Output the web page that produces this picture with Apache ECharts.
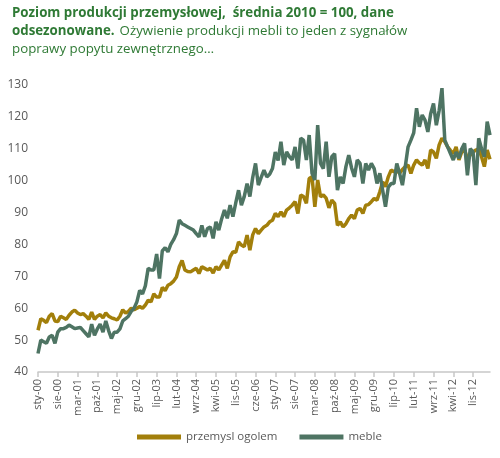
<!DOCTYPE html>
<html>
<head>
<meta charset="utf-8">
<script src="https://cdn.jsdelivr.net/npm/echarts@6/dist/echarts.min.js"></script>
<style>
html, body { margin: 0; padding: 0; background: #fff; }
#chart { width: 500px; height: 458px; }
</style>
</head>
<body>
<div id="chart"></div>
<script>
var monthNames = ['sty', 'lut', 'mar', 'kwi', 'maj', 'cze', 'lip', 'sie', 'wrz', 'paź', 'lis', 'gru'];
var startYear = 2000;
var monthCount = 161;

// przemysl ogolem (sty-00 .. maj-13)
var przemysl = [
	53.1, 56.7, 56.2, 55.5, 57.5, 58.3, 56, 55.8, 57.5, 57, 56.5, 57.8,
	58.8, 59.4, 58.5, 58, 58.3, 57.5, 56.5, 58.8, 56.5, 57.5, 58, 57,
	58.5, 57.5, 57, 56.7, 56.3, 57.5, 59.5, 58.5, 59, 60, 59.5, 60,
	60.5, 60, 61, 62.5, 62, 64.5, 63.5, 63.5, 66.5, 65.5, 67.2, 67.7,
	68.5, 69.8, 73, 75, 72, 71.5, 71.4, 72, 72.5, 70.9, 73, 72.5,
	72, 72.5, 71, 73, 72, 73.5, 75, 72.5, 76.1, 77.7, 77.5, 80.8,
	79.8, 79.3, 82.9, 78.2, 83, 85, 83.4, 84.5, 85.5, 86, 87.1, 87.6,
	89.7, 88.7, 90.2, 88.7, 90.8, 91.5, 92.3, 93.4, 89.7, 95.5, 95, 92.9,
	100.7, 101.2, 91.8, 100.2, 95, 95.5, 94.5, 91.5, 93.9, 92.9, 86, 87.1,
	85.5, 86.5, 88.1, 89.2, 88.1, 90.8, 91.3, 89.7, 92.3, 92.5, 93.4, 94.4,
	93.9, 96.5, 99.6, 98.1, 101.2, 103.3, 102.8, 103.3, 102.3, 103.5, 104.4, 104.9,
	102.3, 104.9, 106.5, 105.5, 104.9, 106.5, 103.8, 109.6, 109, 107, 111.2, 113.3,
	112.2, 110.6, 109.5, 108.5, 110.6, 106.5, 109, 109.6, 107, 108, 109, 109.6,
	110, 107.5, 104.4, 109.6, 106.7
];

// meble
var meble = [
	45.8, 50, 49.5, 49, 51, 51.5, 49, 52.5, 53.6, 53.6, 54, 54.7,
	54.2, 53.6, 53.8, 54, 53, 52, 51, 55, 51.5, 53.5, 55, 52.5,
	56, 53, 50.5, 52.5, 52.5, 53.5, 56, 56.7, 57.5, 59, 60, 62,
	65.6, 64.5, 67, 72.5, 72, 72, 77, 69.3, 78, 79, 77.7, 80,
	81.5, 83.4, 87.6, 86.5, 86, 85.5, 85, 84.5, 83.4, 82.4, 86, 82.4,
	85, 85.5, 81.9, 87.1, 84.5, 88, 90.8, 88.2, 92.3, 88.7, 93, 97,
	92.3, 95, 99.1, 95, 101, 105.4, 98.6, 101, 103.3, 101.2, 102, 103.8,
	109, 106.3, 112.2, 104.9, 109, 107.5, 106.5, 110.6, 103.8, 113.3, 112.7, 106.5,
	114.3, 102.3, 100.2, 117.4, 105.4, 103.8, 112.2, 101.2, 107.5, 108.5, 97, 101.2,
	99.1, 104.4, 108, 104, 101.2, 106.5, 105.4, 99.1, 105.4, 103.3, 105.4, 103.8,
	99.1, 102.3, 97, 91.8, 98, 99.1, 99.1, 105.4, 102.3, 98.6, 104.4, 110.6,
	112.7, 115, 122.7, 116.9, 120.6, 119, 115.3, 121, 124.2, 117.4, 122, 129,
	112.7, 110.6, 108.5, 106.5, 109, 107, 110, 111.7, 101.7, 110, 109, 98.6,
	113.3, 110, 107.5, 118.5, 114.3
];

var categories = [];
for (var i = 0; i < monthCount; i++) {
	var y = startYear + Math.floor(i / 12);
	categories.push(monthNames[i % 12] + '-' + String(y % 100).padStart(2, '0'));
}

var chart = echarts.init(document.getElementById('chart'));
chart.setOption({
	animation: false,
	color: ['#a27f0b', '#4e7463'],
	title: {
		left: 7,
		top: 2,
		padding: [2, 5],
		text: '{b|Poziom produkcji przemysłowej,  średnia 2010 = 100, dane}\n{b|odsezonowane.} {n|Ożywienie produkcji mebli to jeden z sygnałów}\n{n|poprawy popytu zewnętrznego…}',
		textStyle: {
			rich: {
				b: {
					fontFamily: 'Open Sans',
					fontSize: 13.3,
					fontWeight: 'bold',
					color: '#2f7a35',
					lineHeight: 18
				},
				n: {
					fontFamily: 'Open Sans',
					fontSize: 13.3,
					fontWeight: 'normal',
					color: '#2f7a35',
					lineHeight: 18
				}
			}
		}
	},
	legend: {
		bottom: 10,
		left: 132,
		itemGap: 22,
		itemWidth: 44,
		itemHeight: 5,
		icon: 'rect',
		textStyle: {
			color: '#595959',
			fontFamily: 'Open Sans',
			fontSize: 11.5
		},
		data: ['przemysl ogolem', 'meble']
	},
	grid: {
		left: 38,
		right: 10,
		top: 85,
		bottom: 86
	},
	xAxis: {
		type: 'category',
		boundaryGap: false,
		data: categories,
		axisLine: {
			lineStyle: {
				color: '#c8c8c8',
				width: 1.5
			}
		},
		axisTick: {
			interval: 6,
			length: 5,
			lineStyle: {
				color: '#c8c8c8',
				width: 1.5
			}
		},
		axisLabel: {
			interval: 6,
			rotate: 90,
			margin: 7,
			color: '#595959',
			fontFamily: 'Open Sans',
			fontSize: 11
		},
		splitLine: {
			show: false
		}
	},
	yAxis: {
		type: 'value',
		min: 40,
		max: 130,
		interval: 10,
		axisLine: {
			show: false
		},
		axisTick: {
			show: false
		},
		splitLine: {
			show: false
		},
		axisLabel: {
			margin: 10,
			color: '#595959',
			fontFamily: 'Open Sans',
			fontSize: 12
		}
	},
	series: [{
			name: 'przemysl ogolem',
			type: 'line',
			symbol: 'none',
			lineStyle: {
				width: 3.5
			},
			data: przemysl
		},
		{
			name: 'meble',
			type: 'line',
			symbol: 'none',
			lineStyle: {
				width: 3.5
			},
			data: meble
		}
	]
});
</script>
</body>
</html>
